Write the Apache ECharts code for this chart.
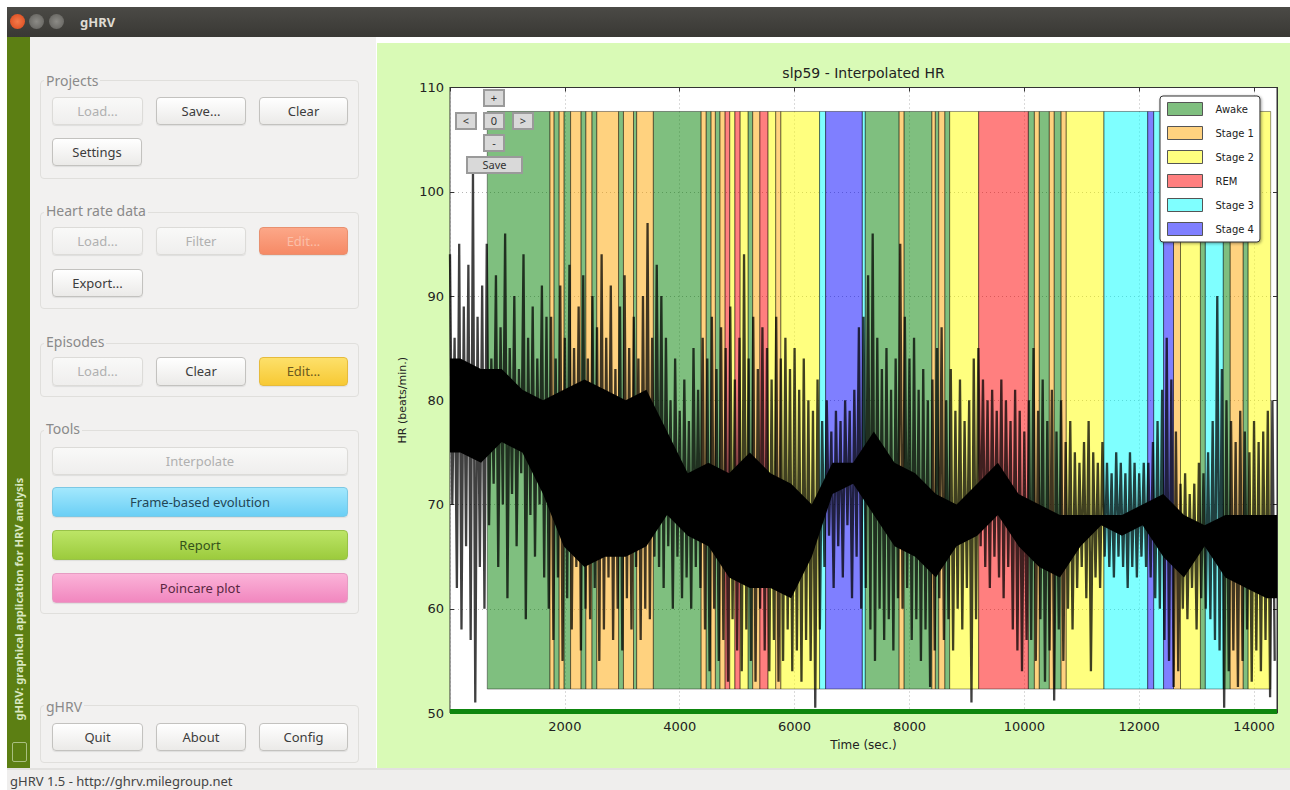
<!DOCTYPE html>
<html>
<head>
<meta charset="utf-8">
<title>gHRV</title>
<script src="https://cdn.jsdelivr.net/npm/echarts@6/dist/echarts.min.js"></script>
<style>
body{margin:0;width:1290px;height:790px;overflow:hidden;background:#fff;position:relative;font-family:"Noto Sans","DejaVu Sans",sans-serif}
.abs{position:absolute}
#titlebar{left:7px;top:7px;width:1283px;height:30px;background:linear-gradient(#4b4a46,#393834)}
#titlebar .dot{position:absolute;top:7px;width:15px;height:15px;border-radius:50%;background:radial-gradient(#8c8b86,#5f5e5a)}
#titlebar .close{background:radial-gradient(#f47a4a,#d9461a)}
#titlebar .name{position:absolute;left:73px;top:6px;font-size:13px;font-weight:bold;color:#dfdbd2}
#strip{left:7px;top:37px;width:23px;height:731px;background:#5c7f13}
#strip .txt{position:absolute;left:-118.5px;top:555px;width:260px;height:14px;line-height:14px;text-align:center;transform:rotate(-90deg);font-size:11px;font-weight:bold;color:#d9e8c0;white-space:nowrap}
#strip .ico{position:absolute;left:5px;top:705px;width:13px;height:18px;border:1px solid #a9bf80;border-radius:2px}
#panel{left:30px;top:37px;width:346px;height:731px;background:#f2f1f0}
#plotbg{left:377px;top:43px;width:913px;height:725px;background:#d9fab6}
#status{left:7px;top:768px;width:1283px;height:22px;background:#efeeed;border-top:2px solid #e2e1df}
#status span{position:absolute;left:3px;top:4px;font-size:13px;line-height:15px;color:#444}
.gbox{position:absolute;border:1px solid #e0dfdc;border-radius:4px}
.glabel{position:absolute;font-size:14px;line-height:16px;color:#8a8a8a;background:#f2f1f0;padding:0 2px}
.btn{position:absolute;box-sizing:border-box;border:1px solid #c3c2bf;border-radius:4px;background:linear-gradient(#ffffff,#ebeae8);font-size:13px;color:#3c3c3c;text-align:center;box-shadow:0 1px 1px rgba(0,0,0,0.08)}
.btn.dis{color:#b0b0b0;background:linear-gradient(#f9f9f8,#efeeed);border-color:#dcdbd8}
.btn.salmon{background:linear-gradient(#fca788,#f68a66);border-color:#e8906f;color:#fbbfa8}
.btn.yellow{background:linear-gradient(#fde06a,#f7c934);border-color:#e6bb3c;color:#6b5a20}
.btn.cyan{background:linear-gradient(#a3e8fd,#6bcff5);border-color:#7cc8e4;color:#234656}
.btn.green{background:linear-gradient(#bce566,#9ccb3d);border-color:#98c248;color:#35531a}
.btn.pink{background:linear-gradient(#fbb3d8,#f187bf);border-color:#e69cc3;color:#5a2742}
#chart{left:377px;top:43px;width:913px;height:725px}
.nav{position:absolute;box-sizing:border-box;background:#d9d9d9;border:2px solid #9a9a9a;font-size:11px;line-height:13px;color:#333;text-align:center;z-index:5}
</style>
</head>
<body>
<div id="titlebar" class="abs">
  <div class="dot close" style="left:3px"></div>
  <div class="dot" style="left:22px"></div>
  <div class="dot" style="left:42px"></div>
  <div class="name">gHRV</div>
</div>
<div id="strip" class="abs"><div class="txt">gHRV: graphical application for HRV analysis</div><div class="ico"></div></div>
<div id="panel" class="abs"></div>
<div id="plotbg" class="abs"></div>

<div class="gbox" style="left:40px;top:80px;width:317px;height:97px"></div>
<div class="glabel" style="left:44px;top:73px">Projects</div>
<div class="btn dis" style="left:52px;top:97px;width:91px;height:28px;line-height:26px">Load...</div>
<div class="btn" style="left:156px;top:97px;width:90px;height:28px;line-height:26px">Save...</div>
<div class="btn" style="left:259px;top:97px;width:89px;height:28px;line-height:26px">Clear</div>
<div class="btn" style="left:52px;top:138px;width:90px;height:28px;line-height:26px">Settings</div>

<div class="gbox" style="left:40px;top:212px;width:317px;height:95px"></div>
<div class="glabel" style="left:44px;top:203px">Heart rate data</div>
<div class="btn dis" style="left:52px;top:227px;width:91px;height:28px;line-height:26px">Load...</div>
<div class="btn dis" style="left:156px;top:227px;width:90px;height:28px;line-height:26px">Filter</div>
<div class="btn salmon" style="left:259px;top:227px;width:89px;height:28px;line-height:26px">Edit...</div>
<div class="btn" style="left:52px;top:269px;width:91px;height:28px;line-height:26px">Export...</div>

<div class="gbox" style="left:40px;top:343px;width:317px;height:52px"></div>
<div class="glabel" style="left:44px;top:334px">Episodes</div>
<div class="btn dis" style="left:52px;top:357px;width:91px;height:29px;line-height:27px">Load...</div>
<div class="btn" style="left:156px;top:357px;width:90px;height:29px;line-height:27px">Clear</div>
<div class="btn yellow" style="left:259px;top:357px;width:89px;height:29px;line-height:27px">Edit...</div>

<div class="gbox" style="left:40px;top:430px;width:317px;height:182px"></div>
<div class="glabel" style="left:44px;top:421px">Tools</div>
<div class="btn dis" style="left:52px;top:447px;width:296px;height:28px;line-height:26px">Interpolate</div>
<div class="btn cyan" style="left:52px;top:487px;width:296px;height:30px;line-height:28px">Frame-based evolution</div>
<div class="btn green" style="left:52px;top:530px;width:296px;height:30px;line-height:28px">Report</div>
<div class="btn pink" style="left:52px;top:573px;width:296px;height:30px;line-height:28px">Poincare plot</div>

<div class="gbox" style="left:40px;top:705px;width:317px;height:56px"></div>
<div class="glabel" style="left:44px;top:699px">gHRV</div>
<div class="btn" style="left:52px;top:723px;width:91px;height:28px;line-height:26px">Quit</div>
<div class="btn" style="left:156px;top:723px;width:90px;height:28px;line-height:26px">About</div>
<div class="btn" style="left:259px;top:723px;width:89px;height:28px;line-height:26px">Config</div>

<div id="status" class="abs"><span>gHRV 1.5 - http://ghrv.milegroup.net</span></div>

<div id="chart" class="abs"></div>
<div class="nav" style="left:483px;top:89px;width:22px;height:18px">+</div>
<div class="nav" style="left:455px;top:112px;width:22px;height:18px">&lt;</div>
<div class="nav" style="left:483px;top:112px;width:22px;height:18px">0</div>
<div class="nav" style="left:512px;top:112px;width:22px;height:18px">&gt;</div>
<div class="nav" style="left:483px;top:134px;width:22px;height:18px">-</div>
<div class="nav" style="left:466px;top:156px;width:57px;height:18px">Save</div>

<script>
/*----------data----------*/
var binSec=80;	//each bin: one peak then one trough
var hrHigh=[
	94,86,95,89,93,102,88,91,
	95,84,92,87,96,85,90,83,94,86,89,84,91,88,
	88,84,91,86,93,85,89,92,84,90,87,94,86,91,83,89,92,85,88,84,90,97,86,
	93,90,86,80,84,79,82,78,85,81,
	86,84,88,83,87,85,89,82,86,94,84,88,83,87,85,82,88,84,86,83,85,81,84,80,79,82,
	78,80,77,79,78,80,79,81,87,
	88,92,96,86,83,85,81,84,
	95,88,84,86,81,83,80,82,85,87,80,83,79,82,78,80,84,
	85,82,80,81,79,82,80,78,81,79,77,
	80,85,79,82,78,81,77,80,76,78,
	75,74,76,78,75,74,76,
	74,73,75,74,73,75,74,73,74,
	74,76,78,81,86,82,77,
	72,73,71,72,74,73,75,78,90,83,
	80,78,76,79,77,75,78,76,77,79,80
];
var hrLow=[
	70,62,58,66,57,51,64,60,
	68,72,64,70,61,71,66,73,59,69,65,70,63,60,
	57,63,55,61,58,64,56,60,59,62,55,58,63,57,60,56,61,58,64,57,60,59,65,
	64,62,66,60,65,61,63,60,64,62,
	58,54,60,55,57,53,59,56,54,58,55,53,60,56,54,57,53,55,58,54,56,53,57,55,50.5,58,
	64,67,62,66,63,68,61,65,60,
	62,58,55,60,57,59,56,61,
	60,62,57,59,55,58,52.5,56,61,57,59,56,60,58,62,51,59,
	66,64,62,65,63,61,64,58,56,54,57,
	57,55,59,53,56,51.2,58,55,60,58,
	62,64,61,54,63,62,65,
	64,63,65,64,62,64,63,65,64,
	63,61,60,57,55,52.5,54,
	60,59,62,58,61,60,59,57,56,50.5,
	54,56,52.5,55,58,53,56,54,57,51.5,55
];
var coreSec=360;	//solid black middle of the trace
var coreTop=[84,83,83,81,80,81,82,81,80,81,77,73,74,73,75,73,72,70,74,74,
	77,74,73,71,70,72,74,71,70,69,69,69,69,70,71,69,68,69,69,69];
var coreBottom=[75,74,76,75,71,66,64,65,65,66,69,67,66,63,62,62,61,65,71,72,
	69,66,65,63,66,67,69,66,64,63,66,68,67,68,65,63,66,63,62,61];
var stageNames=["Awake","Stage 1","Stage 2","REM","Stage 3","Stage 4"];
var stageColors=["rgba(0,128,0,0.5)","rgba(255,165,0,0.5)","rgba(255,255,0,0.5)","rgba(255,0,0,0.5)","rgba(0,255,255,0.5)","rgba(0,0,255,0.5)"];
var epStart=[649,1740,1810,1900,1985,2100,2280,2365,2470,2555,2935,3020,3195,3250,3540,
	4372,4460,4545,4620,4700,4790,4870,4960,5050,5190,5270,5395,5535,5670,5760,6435,6540,7178,
	7230,7820,7905,8390,8450,8510,8615,8700,9205,10070,10175,10260,10435,10520,10640,10730,
	11386,12148,12252,12425,12598,12720,13066,13152,13464,13585,13810,13897];
var epEnd=[1740,1810,1900,1985,2100,2280,2365,2470,2555,2935,3020,3195,3250,3540,4372,
	4460,4545,4620,4700,4790,4870,4960,5050,5190,5270,5395,5535,5670,5760,6435,6540,7178,7230,
	7820,7905,8390,8450,8510,8615,8700,9205,10070,10175,10260,10435,10520,10640,10730,11386,
	12148,12252,12425,12598,12720,13066,13152,13464,13585,13810,13897,14290];
var epStage=[0,1,0,1,0,1,0,1,0,1,0,1,0,1,0,
	1,0,1,0,1,3,2,3,2,0,1,3,2,1,2,4,5,4,
	0,1,0,1,0,1,0,2,3,0,1,0,1,0,1,2,
	4,5,4,5,1,2,0,4,0,1,0,2];
var xTicks={min:0,max:14400,step:2000};
var yTicks={min:50,max:110,step:10};
/*----------chart----------*/
$chart();
function $chart(){
	var chart=echarts.init(document.getElementById("chart"),null,{renderer:"svg"});
	var hrData=[];
	for(var i=0;i<hrHigh.length;i++){
		hrData.push([i*binSec,hrHigh[i]]);
		hrData.push([i*binSec+binSec/2,hrLow[i]]);
	}
	var series=[{
		type:"custom",name:"core",z:3,silent:true,clip:true,data:[[0,70]],
		renderItem:function(params,api){
			var pts=[api.coord([0,coreTop[0]])];
			for(var k=0;k<coreTop.length;k++) pts.push(api.coord([k*coreSec+coreSec/2,coreTop[k]]));
			pts.push(api.coord([xTicks.max,coreTop[coreTop.length-1]]));
			pts.push(api.coord([xTicks.max,coreBottom[coreBottom.length-1]]));
			for(var k=coreBottom.length-1;k>=0;k--) pts.push(api.coord([k*coreSec+coreSec/2,coreBottom[k]]));
			pts.push(api.coord([0,coreBottom[0]]));
			return {type:"polygon",shape:{points:pts},style:{fill:"#000"}};
		}
	},{
		type:"line",name:"HR",data:hrData,symbol:"none",z:3,
		lineStyle:{color:"rgba(0,0,0,0.75)",width:2.3},silent:true
	},{
		type:"line",name:"base",data:[[xTicks.min,50.15],[xTicks.max,50.15]],symbol:"none",z:6,clip:false,
		lineStyle:{color:"#0e860e",width:5},silent:true
	}];
	stageNames.forEach(function(n,k){
		var areas=[];
		for(var j=0;j<epStart.length;j++){
			if(epStage[j]===k) areas.push([{xAxis:epStart[j],yAxis:52.3},{xAxis:epEnd[j],yAxis:107.7}]);
		}
		series.push({
			type:"line",name:n,data:[],z:2,
			itemStyle:{color:stageColors[k]},
			markArea:{z:1,silent:true,itemStyle:{color:stageColors[k],borderColor:"rgba(0,0,0,0.4)",borderWidth:1},data:areas}
		});
	});
	var font="DejaVu Sans";
	var frameAxis={axisLine:{show:true,onZero:false,lineStyle:{color:"#333",width:1}},axisTick:{inside:true,length:4,lineStyle:{color:"#333"}},axisLabel:{show:false},splitLine:{show:false}};
	var option={
		animation:false,
		textStyle:{fontFamily:font},
		graphic:[{type:"text",x:486.5,y:30,style:{text:"slp59 - Interpolated HR",fontSize:14,fontFamily:font,fill:"#222",align:"center",verticalAlign:"middle"}}],
		grid:{left:73,top:44.5,right:13,bottom:55,show:true,backgroundColor:"#fff",borderColor:"#333",borderWidth:1},
		legend:{
			orient:"vertical",left:783,top:53,icon:"rect",selectedMode:false,z:10,
			data:stageNames.map(function(n,k){return {name:n,itemStyle:{color:stageColors[k],borderColor:"#555",borderWidth:1}};}),
			itemWidth:35,itemHeight:13,itemGap:10,padding:[6,6,6,7],
			backgroundColor:"#fff",borderColor:"#333",borderWidth:1,borderRadius:3,
			shadowBlur:3,shadowColor:"rgba(0,0,0,0.4)",shadowOffsetX:1,shadowOffsetY:1,
			textStyle:{fontSize:10,color:"#222",fontFamily:font,padding:[0,0,0,8],width:45}
		},
		xAxis:[{
			type:"value",min:xTicks.min,max:xTicks.max,interval:xTicks.step,
			name:"Time (sec.)",nameLocation:"middle",nameGap:26,
			nameTextStyle:{fontSize:12,color:"#222",fontFamily:font},
			axisLine:{show:false},
			axisTick:{inside:true,length:4,lineStyle:{color:"#333"}},
			axisLabel:{fontSize:13,color:"#222",margin:7,showMinLabel:false,showMaxLabel:false,fontFamily:font,
				formatter:function(v){return String(v);}},
			splitLine:{lineStyle:{color:"#b5b5b5",type:[1,3]}}
		},Object.assign({type:"value",position:"top",min:xTicks.min,max:xTicks.max,interval:xTicks.step},frameAxis)],
		yAxis:[{
			type:"value",min:yTicks.min,max:yTicks.max,interval:yTicks.step,
			name:"HR (beats/min.)",nameLocation:"middle",nameGap:26,
			nameTextStyle:{fontSize:11,color:"#222",fontFamily:font},
			axisLine:{show:false},
			axisTick:{inside:true,length:4,lineStyle:{color:"#333"}},
			axisLabel:{fontSize:13,color:"#222",margin:6,fontFamily:font},
			splitLine:{lineStyle:{color:"#b5b5b5",type:[1,3]}}
		},Object.assign({type:"value",position:"right",min:yTicks.min,max:yTicks.max,interval:yTicks.step},frameAxis)],
		series:series
	};
	chart.setOption(option);
}
</script>
</body>
</html>
